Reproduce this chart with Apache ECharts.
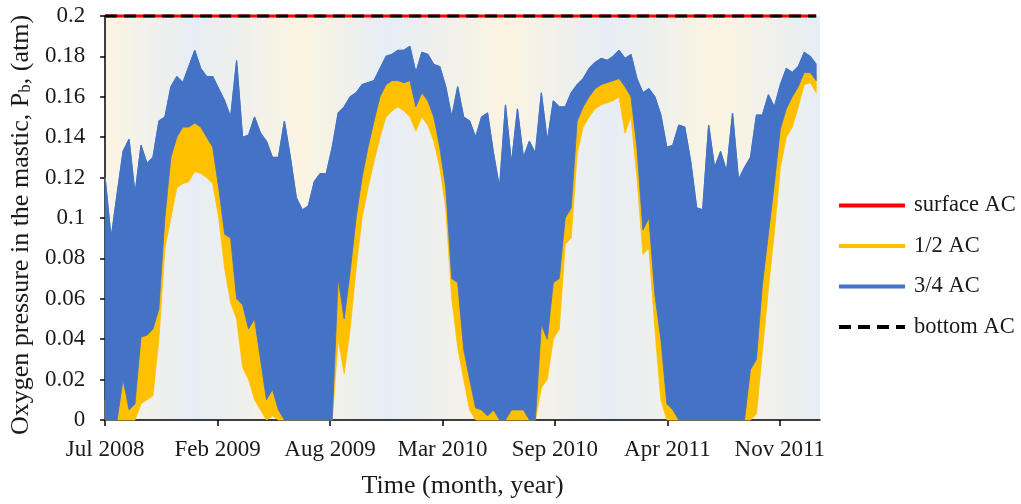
<!DOCTYPE html>
<html>
<head>
<meta charset="utf-8">
<script src="https://cdn.jsdelivr.net/npm/echarts@6.0.0/dist/echarts.min.js"></script>
<style>html,body{margin:0;padding:0;background:#fff}#c{width:1021px;height:504px}</style>
</head>
<body>
<div id="c"></div>
<script>
// Time axis: samples every STEP_DAYS days starting Jul 2008
const STEP_DAYS = 11;
const TICK_DAYS = 207;
const X_MAX_DAYS = 1316;
const tickLabels = ['Jul 2008','Feb 2009','Aug 2009','Mar 2010','Sep 2010','Apr 2011','Nov 2011'];

// surface AC and bottom AC stay at 0.2 atm over the whole period
const surfaceAC = [0.2, 0.2];
const bottomAC = [0.2, 0.2];

// 3/4 AC: upper and lower envelope of daily oscillation (atm)
const ac34Hi = [0.120,0.090,0.112,0.133,0.139,0.112,0.136,0.127,0.130,0.148,
0.150,0.165,0.170,0.167,0.175,0.183,0.174,0.170,0.170,0.164,
0.158,0.150,0.178,0.140,0.141,0.150,0.142,0.138,0.130,0.130,
0.148,0.130,0.110,0.104,0.106,0.118,0.122,0.122,0.135,0.152,
0.155,0.160,0.162,0.166,0.167,0.168,0.174,0.180,0.181,0.183,
0.183,0.185,0.172,0.182,0.181,0.176,0.175,0.165,0.150,0.165,
0.150,0.148,0.140,0.150,0.152,0.132,0.115,0.156,0.127,0.154,
0.130,0.138,0.132,0.162,0.138,0.158,0.155,0.155,0.162,0.166,
0.169,0.174,0.177,0.179,0.178,0.180,0.183,0.179,0.181,0.169,
0.162,0.164,0.160,0.151,0.135,0.136,0.146,0.145,0.128,0.105,
0.104,0.146,0.125,0.133,0.123,0.152,0.119,0.125,0.130,0.151,
0.151,0.161,0.155,0.166,0.174,0.172,0.175,0.182,0.180,0.176];
const ac34Lo = [0,0,0,0.020,0.005,0.008,0.041,0.042,0.045,0.055,
0.100,0.130,0.140,0.145,0.145,0.147,0.145,0.140,0.135,0.115,
0.092,0.090,0.060,0.057,0.045,0.050,0.030,0.010,0.015,0.005,
0,0,0,0,0,0,0,0,0,0.070,
0.050,0.073,0.100,0.120,0.135,0.148,0.160,0.166,0.168,0.168,
0.167,0.168,0.155,0.162,0.158,0.150,0.135,0.115,0.070,0.068,
0.035,0.020,0.006,0.005,0.002,0.005,0,0,0.005,0.005,
0.005,0,0,0.047,0.040,0.068,0.070,0.100,0.105,0.148,
0.155,0.160,0.164,0.166,0.167,0.168,0.169,0.165,0.160,0.135,
0.094,0.100,0.062,0.040,0.008,0.005,0,0,0,0,
0,0,0,0,0,0,0,0,0.025,0.030,
0.067,0.092,0.117,0.144,0.154,0.160,0.165,0.172,0.172,0.168];

// 1/2 AC: upper and lower envelope (atm)
const ac12Hi = [0.010,0.010,0.010,0.022,0.010,0.012,0.045,0.045,0.048,0.060,
0.105,0.135,0.145,0.148,0.148,0.150,0.148,0.145,0.140,0.120,
0.100,0.095,0.090,0.060,0.050,0.055,0.035,0.020,0.020,0.010,
0.005,0.005,0.005,0.005,0.005,0.005,0.005,0.005,0.005,0.075,
0.055,0.080,0.105,0.125,0.140,0.152,0.163,0.170,0.172,0.172,
0.170,0.174,0.160,0.166,0.162,0.155,0.140,0.120,0.075,0.075,
0.040,0.025,0.010,0.010,0.008,0.010,0.005,0.005,0.010,0.010,
0.010,0.005,0.005,0.050,0.045,0.072,0.075,0.105,0.110,0.152,
0.158,0.163,0.167,0.169,0.170,0.171,0.172,0.168,0.165,0.140,
0.100,0.105,0.066,0.045,0.012,0.010,0.010,0.010,0.005,0.005,
0.005,0.005,0.005,0.005,0.005,0.005,0.005,0.005,0.030,0.035,
0.070,0.095,0.120,0.147,0.157,0.163,0.168,0.175,0.175,0.171];
const ac12Lo = [0,0,0,0,0,0,0.008,0.010,0.012,0.040,
0.085,0.100,0.115,0.117,0.118,0.123,0.122,0.120,0.117,0.100,
0.075,0.058,0.050,0.026,0.020,0.010,0.005,0,0.002,0,
0,0,0,0,0,0,0,0,0,0.040,
0.023,0.045,0.075,0.100,0.115,0.128,0.140,0.150,0.153,0.155,
0.153,0.150,0.143,0.150,0.146,0.138,0.125,0.105,0.060,0.036,
0.020,0.005,0,0,0,0,0,0,0,0,
0,0,0,0.016,0.020,0.040,0.045,0.087,0.090,0.132,
0.145,0.150,0.154,0.156,0.157,0.158,0.160,0.142,0.150,0.120,
0.082,0.085,0.045,0.010,0,0,0,0,0,0,
0,0,0,0,0,0,0,0,0,0.003,
0.034,0.065,0.093,0.125,0.140,0.145,0.155,0.166,0.167,0.162];

const days = ac34Hi.map((_, i) => i * STEP_DAYS);
const lastDay = days[days.length - 1];
const pts = arr => arr.map((v, i) => [days[i], v]);
const flat = arr => [[0, arr[0]], [lastDay, arr[1]]];
const tickDays = tickLabels.map((_, i) => i * TICK_DAYS);

const FONT = '"Liberation Serif", "Times New Roman", serif';
const TXT = '#1a1a1a';
const ORANGE = '#FFC000', BLUE = '#4472C4';

// band between lower and upper envelope, drawn through the axis scales
function bandRenderer(hi, lo, color) {
  return function (params, api) {
    const top = hi.map((v, i) => api.coord([days[i], v]));
    const bot = lo.map((v, i) => api.coord([days[i], v])).reverse();
    return {type: 'polygon', shape: {points: top.concat(bot)}, style: {fill: color, stroke: color, lineWidth: 0.8}, silent: true};
  };
}

// seasonal background tint of plot area
const Y = '#FBF4E1', B = '#E6EDF5';
const bg = {
  type: 'linear', x: 0, y: 0, x2: 1, y2: 0,
  colorStops: [
    {offset: 0, color: Y}, {offset: 0.125, color: B}, {offset: 0.276, color: Y},
    {offset: 0.394, color: B}, {offset: 0.564, color: Y}, {offset: 0.707, color: B},
    {offset: 0.86, color: Y}, {offset: 1, color: B}
  ]
};

const chart = echarts.init(document.getElementById('c'), null, {renderer: 'canvas'});
chart.setOption({
  animation: false,
  backgroundColor: '#fff',
  grid: {left: 102, right: 201, top: 16, bottom: 77, show: true, backgroundColor: bg, borderWidth: 0},
  legend: {
    data: ['surface AC', '1/2 AC', '3/4 AC', 'bottom AC'],
    orient: 'vertical', left: 832, top: 189,
    itemWidth: 66, itemHeight: 14, itemGap: 17.5,
    itemStyle: {opacity: 0},
    lineStyle: {width: 4},
    textStyle: {fontFamily: FONT, fontSize: 22.5, color: TXT, padding: [0, 0, 0, 4]}
  },
  xAxis: {
    type: 'value', min: 0, max: X_MAX_DAYS, interval: TICK_DAYS,
    name: 'Time (month, year)', nameLocation: 'middle', nameGap: 53,
    nameTextStyle: {fontFamily: FONT, fontSize: 26, color: TXT},
    axisLine: {show: true, onZero: false, lineStyle: {color: '#000', width: 1.5}},
    axisTick: {show: true, length: 6, lineStyle: {color: '#000', width: 1.5}, customValues: tickDays},
    axisLabel: {fontFamily: FONT, fontSize: 23, color: TXT, margin: 18, customValues: tickDays,
      formatter: v => { const k = Math.round(v / TICK_DAYS); return tickLabels[k] || ''; }},
    splitLine: {show: false}
  },
  yAxis: {
    type: 'value', min: 0, max: 0.2, interval: 0.02,
    name: 'Oxygen pressure in the mastic, P{s|b}, (atm)', nameLocation: 'middle', nameGap: 65,
    nameTextStyle: {fontFamily: FONT, fontSize: 26, color: TXT, padding: [0, 14, 0, 0],
      rich: {s: {fontFamily: FONT, fontSize: 17, color: TXT, verticalAlign: 'bottom'}}},
    axisLine: {show: true, lineStyle: {color: '#000', width: 1.5}},
    axisTick: {show: true, length: 5, lineStyle: {color: '#000', width: 1.5}},
    axisLabel: {fontFamily: FONT, fontSize: 23, color: TXT, margin: 20},
    splitLine: {show: false}
  },
  series: [
    {name: 'surface AC', type: 'line', data: flat(surfaceAC), symbol: 'none', clip: false,
      lineStyle: {color: '#FF0000', width: 3}, itemStyle: {color: '#FF0000'}, z: 5},
    {name: 'ac12band', type: 'custom', data: [[0, 0]], renderItem: bandRenderer(ac12Hi, ac12Lo, ORANGE), z: 2},
    {name: '1/2 AC', type: 'line', data: pts(ac12Hi), symbol: 'none', z: 2,
      lineStyle: {color: ORANGE, width: 1}, itemStyle: {color: ORANGE}},
    {name: 'ac34band', type: 'custom', data: [[0, 0]], renderItem: bandRenderer(ac34Hi, ac34Lo, BLUE), z: 3},
    {name: '3/4 AC', type: 'line', data: pts(ac34Hi), symbol: 'none', z: 3,
      lineStyle: {color: BLUE, width: 1.2}, itemStyle: {color: BLUE}},
    {name: 'bottom AC', type: 'line', data: flat(bottomAC), symbol: 'none', clip: false,
      lineStyle: {color: '#000', width: 3, type: [12, 7]}, itemStyle: {color: '#000'}, z: 6}
  ]
});
</script>
</body>
</html>
